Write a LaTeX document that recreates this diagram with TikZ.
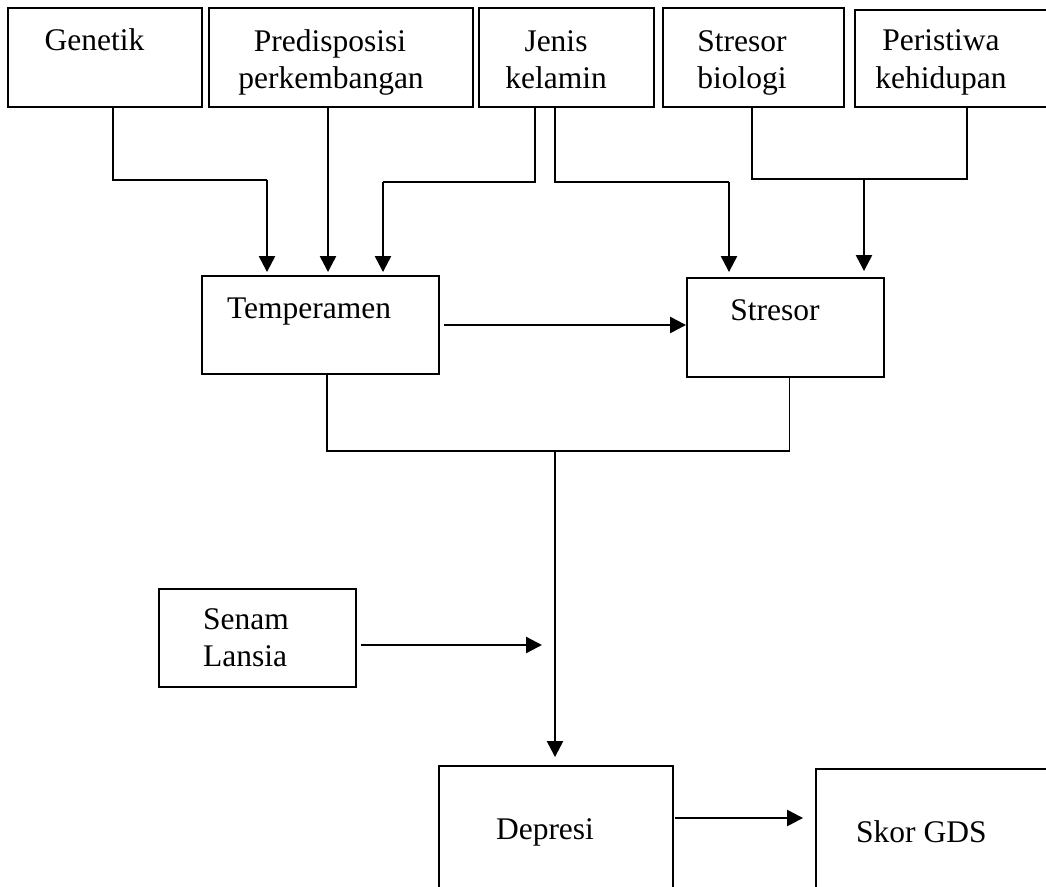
\documentclass[tikz,border=0pt]{standalone}
\usepackage{fontspec}
\setmainfont{Liberation Serif}
\usetikzlibrary{arrows.meta}
\begin{document}
\begin{tikzpicture}[x=1pt,y=-1pt,
  box/.style={draw,line width=1.9pt,rectangle,inner sep=0pt},
  lbl/.style={anchor=base,inner sep=0pt,font=\fontsize{31.5}{37}\selectfont},
  lbll/.style={anchor=base west,inner sep=0pt,font=\fontsize{31.5}{37}\selectfont},
  conn/.style={line width=1.5pt},
  arr/.style={line width=2.4pt,-{Triangle[width=16pt,length=16pt]}}]
\clip (0,0) rectangle (1046,886);
\fill[white] (0,0) rectangle (1046,886);
% boxes
\node[box,minimum width=194pt,minimum height=99pt] (gen) at (105,57.5) {};
\node[box,minimum width=264pt,minimum height=99pt] (pre) at (341,57.5) {};
\node[box,minimum width=175pt,minimum height=99pt] (jen) at (566.5,57.5) {};
\node[box,minimum width=181pt,minimum height=99pt] (sbio) at (753.5,57.5) {};
\node[box,minimum width=205pt,minimum height=97pt] (per) at (957.5,58.5) {};
\node[box,minimum width=237pt,minimum height=98pt] (temp) at (320.5,325) {};
\node[box,minimum width=197pt,minimum height=99pt] (str) at (785.5,327.5) {};
\node[box,minimum width=197pt,minimum height=98pt] (sen) at (257.5,638) {};
\node[box,minimum width=234pt,minimum height=134pt] (dep) at (556,833) {};
\node[box,minimum width=244pt,minimum height=131pt] (skor) at (938,834.5) {};
% texts
\node[lbl] (gen-t) at (94.5,50) {Genetik};
\node[lbl] (pre-t1) at (330,51) {Predisposisi};
\node[lbl] (pre-t2) at (331,88) {perkembangan};
\node[lbl] (jen-t1) at (556,51) {Jenis};
\node[lbl] (jen-t2) at (556,88) {kelamin};
\node[lbl] (sbio-t1) at (742,51) {Stresor};
\node[lbl] (sbio-t2) at (742,88) {biologi};
\node[lbl] (per-t1) at (941,50) {Peristiwa};
\node[lbl] (per-t2) at (941,88) {kehidupan};
\node[lbl] (temp-t) at (309,318) {Temperamen};
\node[lbl] (str-t) at (775,320) {Stresor};
\node[lbll] (sen-t1) at (203,629) {Senam};
\node[lbll] (sen-t2) at (203,666) {Lansia};
\node[lbl] (dep-t) at (545,839) {Depresi};
\node[lbll] (skor-t) at (856,842) {Skor GDS};
% junction coordinates
\coordinate (gj) at (267,180);
\coordinate (jl) at (383,182);
\coordinate (jr) at (729,182);
\coordinate (sp) at (864,179);
\coordinate (tj) at (555,451);
\coordinate (sa) at (542,645);
\coordinate (pd) at ([xshift=-13pt]pre.south);
\coordinate (sn) at ([yshift=-7pt]sen.east);
\coordinate (da) at ([yshift=15pt]dep.east);
% connectors
\draw[conn] ([xshift=8pt]gen.south) |- (gj);
\draw[arr,shorten >=3pt] (gj) -- (gj |- temp.north);
\draw[arr,shorten >=3pt] (pd) -- (pd |- temp.north);
\draw[conn] ([xshift=-31.5pt]jen.south) |- (jl);
\draw[arr,shorten >=3pt] (jl) -- (jl |- temp.north);
\draw[conn] ([xshift=-11.5pt]jen.south) |- (jr);
\draw[arr,shorten >=5pt] (jr) -- (jr |- str.north);
\draw[conn] ([xshift=-1.5pt]sbio.south) |- (sp) -| ([xshift=9.5pt]per.south);
\draw[arr,shorten >=6pt] (sp) -- (sp |- str.north);
\draw[arr,shorten <=4pt] (temp.east) -- (temp.east -| str.west);
\draw[conn] ([xshift=6.5pt]temp.south) |- (tj) -| ([xshift=4pt]str.south);
\draw[arr,shorten >=8pt] (tj) -- (tj |- dep.north);
\draw[arr,shorten <=4pt] (sn) -- (sa);
\draw[arr,shorten <=1pt,shorten >=12pt] (da) -- (da -| skor.west);
\end{tikzpicture}
\end{document}
